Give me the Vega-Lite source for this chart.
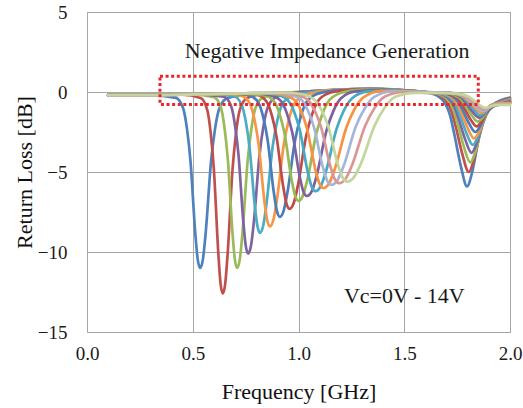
{
"$schema": "https://vega.github.io/schema/vega-lite/v6.json",
"width": 423, "height": 320,
"autosize": {"type": "none"},
"padding": {"left": 87, "top": 12, "right": 13, "bottom": 76},
"background": "white",
"config": {"view": {"stroke": "#A6A6A6", "strokeWidth": 1}, "font": "Liberation Serif"},
"encoding": {
  "x": {"field": "f", "type": "quantitative", "scale": {"domain": [0, 2], "nice": false, "zero": false},
    "axis": {"values": [0, 0.5, 1, 1.5, 2], "format": ".1f", "title": "Frequency [GHz]", "grid": true, "gridColor": "#A6A6A6", "gridWidth": 1, "domain": false, "ticks": false, "tickSize": 0, "labelFlush": false, "labelOverlap": false,
      "labelFont": "Liberation Serif", "labelFontSize": 19, "labelColor": "#1a1a1a", "labelPadding": 12,
      "titleFont": "Liberation Serif", "titleFontSize": 22, "titleFontWeight": "normal", "titleColor": "#111111", "titlePadding": 18}},
  "y": {"field": "r", "type": "quantitative", "scale": {"domain": [-15, 5], "nice": false, "zero": false},
    "axis": {"values": [-15, -10, -5, 0, 5], "format": "d", "title": "Return Loss [dB]", "grid": true, "gridColor": "#A6A6A6", "gridWidth": 1, "domain": false, "ticks": false, "tickSize": 0, "labelFlush": false, "labelOverlap": false,
      "labelFont": "Liberation Serif", "labelFontSize": 19, "labelColor": "#1a1a1a", "labelPadding": 20,
      "titleFont": "Liberation Serif", "titleFontSize": 22, "titleFontWeight": "normal", "titleColor": "#111111", "titlePadding": 1}}
},
"layer": [
{
"data": {"values": [
{"c":"00","f":0.1,"r":-0.2},{"c":"00","f":0.3,"r":-0.2},{"c":"00","f":0.42,"r":-0.37},{"c":"00","f":0.4545,"r":-1.02},{"c":"00","f":0.4729,"r":-2.32},{"c":"00","f":0.489,"r":-4.27},{"c":"00","f":0.512,"r":-8.83},{"c":"00","f":0.5235,"r":-10.46},{"c":"00","f":0.535,"r":-11.0},{"c":"00","f":0.548,"r":-10.46},{"c":"00","f":0.561,"r":-8.83},{"c":"00","f":0.587,"r":-4.27},{"c":"00","f":0.6052,"r":-2.32},{"c":"00","f":0.626,"r":-1.02},{"c":"00","f":0.665,"r":-0.37},{"c":"00","f":0.8,"r":-0.12},{"c":"00","f":1.0,"r":-0.02},{"c":"00","f":1.2,"r":0.12},{"c":"00","f":1.35,"r":0.18},{"c":"00","f":1.5,"r":0.08},{"c":"00","f":1.6,"r":-0.02},{"c":"00","f":1.637,"r":-0.12},{"c":"00","f":1.687,"r":-0.59},{"c":"00","f":1.717,"r":-1.48},{"c":"00","f":1.737,"r":-2.66},{"c":"00","f":1.767,"r":-4.6},{"c":"00","f":1.797,"r":-5.9},{"c":"00","f":1.822,"r":-4.96},{"c":"00","f":1.847,"r":-3.25},{"c":"00","f":1.872,"r":-1.76},{"c":"00","f":1.907,"r":-0.91},{"c":"00","f":2.0,"r":-0.35},
{"c":"01","f":0.1,"r":-0.2},{"c":"01","f":0.3,"r":-0.2},{"c":"01","f":0.45,"r":-0.17},{"c":"01","f":0.537,"r":-0.37},{"c":"01","f":0.5685,"r":-1.12},{"c":"01","f":0.5853,"r":-2.62},{"c":"01","f":0.6,"r":-4.86},{"c":"01","f":0.621,"r":-10.1},{"c":"01","f":0.6315,"r":-11.98},{"c":"01","f":0.642,"r":-12.6},{"c":"01","f":0.6535,"r":-11.98},{"c":"01","f":0.665,"r":-10.1},{"c":"01","f":0.688,"r":-4.86},{"c":"01","f":0.7041,"r":-2.62},{"c":"01","f":0.7225,"r":-1.12},{"c":"01","f":0.757,"r":-0.37},{"c":"01","f":0.85,"r":-0.08},{"c":"01","f":1.0,"r":0.0},{"c":"01","f":1.2,"r":0.15},{"c":"01","f":1.35,"r":0.2},{"c":"01","f":1.5,"r":0.1},{"c":"01","f":1.6,"r":0.0},{"c":"01","f":1.645,"r":-0.1},{"c":"01","f":1.695,"r":-0.5},{"c":"01","f":1.725,"r":-1.25},{"c":"01","f":1.745,"r":-2.25},{"c":"01","f":1.775,"r":-3.9},{"c":"01","f":1.805,"r":-5.0},{"c":"01","f":1.83,"r":-4.2},{"c":"01","f":1.855,"r":-2.75},{"c":"01","f":1.88,"r":-1.55},{"c":"01","f":1.915,"r":-0.86},{"c":"01","f":2.0,"r":-0.4},
{"c":"02","f":0.1,"r":-0.22},{"c":"02","f":0.3,"r":-0.2},{"c":"02","f":0.5,"r":-0.15},{"c":"02","f":0.6,"r":-0.32},{"c":"02","f":0.633,"r":-0.97},{"c":"02","f":0.6506,"r":-2.28},{"c":"02","f":0.666,"r":-4.24},{"c":"02","f":0.688,"r":-8.82},{"c":"02","f":0.699,"r":-10.46},{"c":"02","f":0.71,"r":-11.0},{"c":"02","f":0.7225,"r":-10.46},{"c":"02","f":0.735,"r":-8.82},{"c":"02","f":0.76,"r":-4.24},{"c":"02","f":0.7775,"r":-2.28},{"c":"02","f":0.7975,"r":-0.97},{"c":"02","f":0.835,"r":-0.32},{"c":"02","f":0.95,"r":-0.05},{"c":"02","f":1.1,"r":0.07},{"c":"02","f":1.25,"r":0.18},{"c":"02","f":1.4,"r":0.2},{"c":"02","f":1.5,"r":0.1},{"c":"02","f":1.6,"r":0.0},{"c":"02","f":1.652,"r":-0.09},{"c":"02","f":1.702,"r":-0.44},{"c":"02","f":1.732,"r":-1.1},{"c":"02","f":1.752,"r":-1.98},{"c":"02","f":1.782,"r":-3.43},{"c":"02","f":1.812,"r":-4.4},{"c":"02","f":1.837,"r":-3.7},{"c":"02","f":1.862,"r":-2.42},{"c":"02","f":1.887,"r":-1.42},{"c":"02","f":1.922,"r":-0.85},{"c":"02","f":2.0,"r":-0.45},
{"c":"03","f":0.1,"r":-0.18},{"c":"03","f":0.3,"r":-0.2},{"c":"03","f":0.5,"r":-0.15},{"c":"03","f":0.647,"r":-0.29},{"c":"03","f":0.6815,"r":-0.89},{"c":"03","f":0.6999,"r":-2.09},{"c":"03","f":0.716,"r":-3.89},{"c":"03","f":0.739,"r":-8.1},{"c":"03","f":0.7505,"r":-9.6},{"c":"03","f":0.762,"r":-10.1},{"c":"03","f":0.7755,"r":-9.6},{"c":"03","f":0.789,"r":-8.1},{"c":"03","f":0.816,"r":-3.89},{"c":"03","f":0.8349,"r":-2.09},{"c":"03","f":0.8565,"r":-0.89},{"c":"03","f":0.897,"r":-0.29},{"c":"03","f":1.0,"r":-0.02},{"c":"03","f":1.15,"r":0.1},{"c":"03","f":1.3,"r":0.2},{"c":"03","f":1.45,"r":0.15},{"c":"03","f":1.6,"r":0.0},{"c":"03","f":1.658,"r":-0.08},{"c":"03","f":1.708,"r":-0.38},{"c":"03","f":1.738,"r":-0.95},{"c":"03","f":1.758,"r":-1.71},{"c":"03","f":1.788,"r":-2.96},{"c":"03","f":1.818,"r":-3.8},{"c":"03","f":1.843,"r":-3.19},{"c":"03","f":1.868,"r":-2.09},{"c":"03","f":1.893,"r":-1.28},{"c":"03","f":1.928,"r":-0.83},{"c":"03","f":2.0,"r":-0.5},
{"c":"04","f":0.1,"r":-0.2},{"c":"04","f":0.3,"r":-0.19},{"c":"04","f":0.5,"r":-0.15},{"c":"04","f":0.6,"r":-0.13},{"c":"04","f":0.693,"r":-0.25},{"c":"04","f":0.7305,"r":-0.78},{"c":"04","f":0.7505,"r":-1.82},{"c":"04","f":0.768,"r":-3.39},{"c":"04","f":0.793,"r":-7.06},{"c":"04","f":0.8055,"r":-8.36},{"c":"04","f":0.818,"r":-8.8},{"c":"04","f":0.833,"r":-8.36},{"c":"04","f":0.848,"r":-7.06},{"c":"04","f":0.878,"r":-3.39},{"c":"04","f":0.899,"r":-1.82},{"c":"04","f":0.923,"r":-0.78},{"c":"04","f":0.968,"r":-0.25},{"c":"04","f":1.1,"r":0.06},{"c":"04","f":1.25,"r":0.16},{"c":"04","f":1.4,"r":0.18},{"c":"04","f":1.5,"r":0.1},{"c":"04","f":1.6,"r":0.0},{"c":"04","f":1.664,"r":-0.07},{"c":"04","f":1.714,"r":-0.33},{"c":"04","f":1.744,"r":-0.83},{"c":"04","f":1.764,"r":-1.49},{"c":"04","f":1.794,"r":-2.57},{"c":"04","f":1.824,"r":-3.3},{"c":"04","f":1.849,"r":-2.77},{"c":"04","f":1.874,"r":-1.82},{"c":"04","f":1.899,"r":-1.14},{"c":"04","f":1.934,"r":-0.78},{"c":"04","f":2.0,"r":-0.5},
{"c":"05","f":0.1,"r":-0.21},{"c":"05","f":0.3,"r":-0.2},{"c":"05","f":0.5,"r":-0.15},{"c":"05","f":0.65,"r":-0.12},{"c":"05","f":0.73,"r":-0.24},{"c":"05","f":0.7705,"r":-0.74},{"c":"05","f":0.7921,"r":-1.74},{"c":"05","f":0.811,"r":-3.24},{"c":"05","f":0.838,"r":-6.73},{"c":"05","f":0.8515,"r":-7.98},{"c":"05","f":0.865,"r":-8.4},{"c":"05","f":0.8815,"r":-7.98},{"c":"05","f":0.898,"r":-6.73},{"c":"05","f":0.931,"r":-3.24},{"c":"05","f":0.9541,"r":-1.74},{"c":"05","f":0.9805,"r":-0.74},{"c":"05","f":1.03,"r":-0.2},{"c":"05","f":1.15,"r":0.1},{"c":"05","f":1.3,"r":0.18},{"c":"05","f":1.45,"r":0.15},{"c":"05","f":1.6,"r":0.0},{"c":"05","f":1.67,"r":-0.06},{"c":"05","f":1.72,"r":-0.29},{"c":"05","f":1.75,"r":-0.73},{"c":"05","f":1.77,"r":-1.31},{"c":"05","f":1.8,"r":-2.26},{"c":"05","f":1.83,"r":-2.9},{"c":"05","f":1.855,"r":-2.44},{"c":"05","f":1.88,"r":-1.6},{"c":"05","f":1.905,"r":-1.06},{"c":"05","f":1.94,"r":-0.79},{"c":"05","f":2.0,"r":-0.55},
{"c":"06","f":0.1,"r":-0.19},{"c":"06","f":0.3,"r":-0.2},{"c":"06","f":0.5,"r":-0.15},{"c":"06","f":0.7,"r":-0.1},{"c":"06","f":0.767,"r":-0.21},{"c":"06","f":0.8105,"r":-0.67},{"c":"06","f":0.8337,"r":-1.6},{"c":"06","f":0.854,"r":-3.0},{"c":"06","f":0.883,"r":-6.25},{"c":"06","f":0.8975,"r":-7.41},{"c":"06","f":0.912,"r":-7.8},{"c":"06","f":0.93,"r":-7.41},{"c":"06","f":0.948,"r":-6.25},{"c":"06","f":0.984,"r":-3.0},{"c":"06","f":1.0092,"r":-1.6},{"c":"06","f":1.038,"r":-0.62},{"c":"06","f":1.092,"r":-0.1},{"c":"06","f":1.2,"r":0.12},{"c":"06","f":1.35,"r":0.18},{"c":"06","f":1.5,"r":0.1},{"c":"06","f":1.6,"r":0.0},{"c":"06","f":1.676,"r":-0.05},{"c":"06","f":1.726,"r":-0.25},{"c":"06","f":1.756,"r":-0.63},{"c":"06","f":1.776,"r":-1.13},{"c":"06","f":1.806,"r":-1.95},{"c":"06","f":1.836,"r":-2.5},{"c":"06","f":1.861,"r":-2.1},{"c":"06","f":1.886,"r":-1.38},{"c":"06","f":1.911,"r":-0.98},{"c":"06","f":1.946,"r":-0.79},{"c":"06","f":2.0,"r":-0.6},
{"c":"07","f":0.1,"r":-0.2},{"c":"07","f":0.3,"r":-0.2},{"c":"07","f":0.5,"r":-0.15},{"c":"07","f":0.7,"r":-0.1},{"c":"07","f":0.803,"r":-0.18},{"c":"07","f":0.8495,"r":-0.61},{"c":"07","f":0.8743,"r":-1.48},{"c":"07","f":0.896,"r":-2.79},{"c":"07","f":0.927,"r":-5.85},{"c":"07","f":0.9425,"r":-6.94},{"c":"07","f":0.958,"r":-7.3},{"c":"07","f":0.9775,"r":-6.94},{"c":"07","f":0.997,"r":-5.85},{"c":"07","f":1.036,"r":-2.76},{"c":"07","f":1.0633,"r":-1.43},{"c":"07","f":1.0945,"r":-0.52},{"c":"07","f":1.153,"r":-0.03},{"c":"07","f":1.25,"r":0.14},{"c":"07","f":1.4,"r":0.17},{"c":"07","f":1.5,"r":0.1},{"c":"07","f":1.6,"r":0.0},{"c":"07","f":1.682,"r":-0.04},{"c":"07","f":1.732,"r":-0.22},{"c":"07","f":1.762,"r":-0.54},{"c":"07","f":1.782,"r":-0.97},{"c":"07","f":1.812,"r":-1.68},{"c":"07","f":1.842,"r":-2.15},{"c":"07","f":1.867,"r":-1.81},{"c":"07","f":1.892,"r":-1.18},{"c":"07","f":1.917,"r":-0.88},{"c":"07","f":1.952,"r":-0.76},{"c":"07","f":2.0,"r":-0.6},
{"c":"08","f":0.1,"r":-0.2},{"c":"08","f":0.3,"r":-0.2},{"c":"08","f":0.5,"r":-0.15},{"c":"08","f":0.7,"r":-0.1},{"c":"08","f":0.835,"r":-0.2},{"c":"08","f":0.8845,"r":-0.59},{"c":"08","f":0.9109,"r":-1.4},{"c":"08","f":0.934,"r":-2.6},{"c":"08","f":0.967,"r":-5.45},{"c":"08","f":0.9835,"r":-6.46},{"c":"08","f":1.0,"r":-6.8},{"c":"08","f":1.0213,"r":-6.46},{"c":"08","f":1.0425,"r":-5.44},{"c":"08","f":1.085,"r":-2.55},{"c":"08","f":1.1148,"r":-1.31},{"c":"08","f":1.1488,"r":-0.46},{"c":"08","f":1.2125,"r":-0.01},{"c":"08","f":1.3,"r":0.15},{"c":"08","f":1.45,"r":0.14},{"c":"08","f":1.6,"r":0.0},{"c":"08","f":1.688,"r":-0.04},{"c":"08","f":1.738,"r":-0.19},{"c":"08","f":1.768,"r":-0.46},{"c":"08","f":1.788,"r":-0.83},{"c":"08","f":1.818,"r":-1.44},{"c":"08","f":1.848,"r":-1.85},{"c":"08","f":1.873,"r":-1.55},{"c":"08","f":1.898,"r":-1.02},{"c":"08","f":1.923,"r":-0.83},{"c":"08","f":1.958,"r":-0.78},{"c":"08","f":2.0,"r":-0.65},
{"c":"09","f":0.1,"r":-0.2},{"c":"09","f":0.3,"r":-0.2},{"c":"09","f":0.5,"r":-0.15},{"c":"09","f":0.7,"r":-0.1},{"c":"09","f":0.8,"r":-0.08},{"c":"09","f":0.865,"r":-0.2},{"c":"09","f":0.9175,"r":-0.57},{"c":"09","f":0.9455,"r":-1.35},{"c":"09","f":0.97,"r":-2.5},{"c":"09","f":1.005,"r":-5.22},{"c":"09","f":1.0225,"r":-6.2},{"c":"09","f":1.04,"r":-6.5},{"c":"09","f":1.063,"r":-6.2},{"c":"09","f":1.086,"r":-5.22},{"c":"09","f":1.132,"r":-2.43},{"c":"09","f":1.1642,"r":-1.21},{"c":"09","f":1.201,"r":-0.39},{"c":"09","f":1.27,"r":0.04},{"c":"09","f":1.4,"r":0.14},{"c":"09","f":1.5,"r":0.08},{"c":"09","f":1.6,"r":-0.02},{"c":"09","f":1.694,"r":-0.03},{"c":"09","f":1.744,"r":-0.16},{"c":"09","f":1.774,"r":-0.4},{"c":"09","f":1.794,"r":-0.72},{"c":"09","f":1.824,"r":-1.25},{"c":"09","f":1.854,"r":-1.6},{"c":"09","f":1.879,"r":-1.34},{"c":"09","f":1.904,"r":-0.88},{"c":"09","f":1.929,"r":-0.76},{"c":"09","f":1.964,"r":-0.75},{"c":"09","f":2.0,"r":-0.65},
{"c":"10","f":0.1,"r":-0.2},{"c":"10","f":0.3,"r":-0.2},{"c":"10","f":0.5,"r":-0.15},{"c":"10","f":0.7,"r":-0.1},{"c":"10","f":0.82,"r":-0.07},{"c":"10","f":0.895,"r":-0.17},{"c":"10","f":0.9505,"r":-0.53},{"c":"10","f":0.9801,"r":-1.26},{"c":"10","f":1.006,"r":-2.37},{"c":"10","f":1.043,"r":-4.96},{"c":"10","f":1.0615,"r":-5.89},{"c":"10","f":1.08,"r":-6.2},{"c":"10","f":1.105,"r":-5.89},{"c":"10","f":1.13,"r":-4.96},{"c":"10","f":1.18,"r":-2.31},{"c":"10","f":1.215,"r":-1.14},{"c":"10","f":1.255,"r":-0.37},{"c":"10","f":1.33,"r":0.04},{"c":"10","f":1.45,"r":0.1},{"c":"10","f":1.6,"r":-0.03},{"c":"10","f":1.7,"r":-0.03},{"c":"10","f":1.75,"r":-0.15},{"c":"10","f":1.78,"r":-0.36},{"c":"10","f":1.8,"r":-0.65},{"c":"10","f":1.83,"r":-1.13},{"c":"10","f":1.86,"r":-1.45},{"c":"10","f":1.885,"r":-1.22},{"c":"10","f":1.91,"r":-0.85},{"c":"10","f":1.935,"r":-0.74},{"c":"10","f":1.97,"r":-0.72},{"c":"10","f":2.0,"r":-0.7},
{"c":"11","f":0.1,"r":-0.2},{"c":"11","f":0.3,"r":-0.2},{"c":"11","f":0.5,"r":-0.15},{"c":"11","f":0.7,"r":-0.1},{"c":"11","f":0.85,"r":-0.07},{"c":"11","f":0.923,"r":-0.17},{"c":"11","f":0.9815,"r":-0.5},{"c":"11","f":1.0127,"r":-1.2},{"c":"11","f":1.04,"r":-2.28},{"c":"11","f":1.079,"r":-4.8},{"c":"11","f":1.0985,"r":-5.7},{"c":"11","f":1.118,"r":-6.0},{"c":"11","f":1.145,"r":-5.7},{"c":"11","f":1.172,"r":-4.8},{"c":"11","f":1.226,"r":-2.23},{"c":"11","f":1.2638,"r":-1.1},{"c":"11","f":1.307,"r":-0.34},{"c":"11","f":1.388,"r":0.05},{"c":"11","f":1.5,"r":0.06},{"c":"11","f":1.6,"r":-0.04},{"c":"11","f":1.706,"r":-0.05},{"c":"11","f":1.756,"r":-0.15},{"c":"11","f":1.786,"r":-0.35},{"c":"11","f":1.806,"r":-0.6},{"c":"11","f":1.836,"r":-1.02},{"c":"11","f":1.866,"r":-1.3},{"c":"11","f":1.891,"r":-1.09},{"c":"11","f":1.916,"r":-0.8},{"c":"11","f":1.941,"r":-0.72},{"c":"11","f":2.0,"r":-0.7},
{"c":"12","f":0.1,"r":-0.2},{"c":"12","f":0.3,"r":-0.2},{"c":"12","f":0.5,"r":-0.15},{"c":"12","f":0.7,"r":-0.1},{"c":"12","f":0.88,"r":-0.06},{"c":"12","f":0.95,"r":-0.15},{"c":"12","f":1.0115,"r":-0.46},{"c":"12","f":1.0443,"r":-1.16},{"c":"12","f":1.073,"r":-2.2},{"c":"12","f":1.114,"r":-4.64},{"c":"12","f":1.1345,"r":-5.51},{"c":"12","f":1.155,"r":-5.8},{"c":"12","f":1.184,"r":-5.51},{"c":"12","f":1.213,"r":-4.64},{"c":"12","f":1.271,"r":-2.15},{"c":"12","f":1.3116,"r":-1.06},{"c":"12","f":1.358,"r":-0.31},{"c":"12","f":1.445,"r":0.03},{"c":"12","f":1.55,"r":0.03},{"c":"12","f":1.65,"r":-0.02},{"c":"12","f":1.712,"r":-0.05},{"c":"12","f":1.762,"r":-0.14},{"c":"12","f":1.792,"r":-0.32},{"c":"12","f":1.812,"r":-0.56},{"c":"12","f":1.842,"r":-0.95},{"c":"12","f":1.872,"r":-1.2},{"c":"12","f":1.897,"r":-1.02},{"c":"12","f":1.922,"r":-0.8},{"c":"12","f":1.947,"r":-0.74},{"c":"12","f":2.0,"r":-0.75},
{"c":"13","f":0.1,"r":-0.2},{"c":"13","f":0.3,"r":-0.2},{"c":"13","f":0.5,"r":-0.15},{"c":"13","f":0.7,"r":-0.1},{"c":"13","f":0.9,"r":-0.05},{"c":"13","f":0.977,"r":-0.14},{"c":"13","f":1.0415,"r":-0.46},{"c":"13","f":1.0759,"r":-1.14},{"c":"13","f":1.106,"r":-2.17},{"c":"13","f":1.149,"r":-4.56},{"c":"13","f":1.1705,"r":-5.42},{"c":"13","f":1.192,"r":-5.7},{"c":"13","f":1.2228,"r":-5.42},{"c":"13","f":1.2535,"r":-4.56},{"c":"13","f":1.315,"r":-2.12},{"c":"13","f":1.358,"r":-1.04},{"c":"13","f":1.407,"r":-0.3},{"c":"13","f":1.4995,"r":0.0},{"c":"13","f":1.6,"r":-0.05},{"c":"13","f":1.718,"r":-0.07},{"c":"13","f":1.768,"r":-0.14},{"c":"13","f":1.798,"r":-0.3},{"c":"13","f":1.818,"r":-0.52},{"c":"13","f":1.848,"r":-0.88},{"c":"13","f":1.878,"r":-1.1},{"c":"13","f":1.903,"r":-0.95},{"c":"13","f":1.928,"r":-0.8},{"c":"13","f":1.953,"r":-0.75},{"c":"13","f":2.0,"r":-0.75},
{"c":"14","f":0.1,"r":-0.2},{"c":"14","f":0.3,"r":-0.2},{"c":"14","f":0.5,"r":-0.15},{"c":"14","f":0.7,"r":-0.1},{"c":"14","f":0.93,"r":-0.04},{"c":"14","f":1.005,"r":-0.11},{"c":"14","f":1.0725,"r":-0.45},{"c":"14","f":1.1085,"r":-1.12},{"c":"14","f":1.14,"r":-2.13},{"c":"14","f":1.185,"r":-4.48},{"c":"14","f":1.2075,"r":-5.32},{"c":"14","f":1.23,"r":-5.6},{"c":"14","f":1.2625,"r":-5.32},{"c":"14","f":1.295,"r":-4.48},{"c":"14","f":1.36,"r":-2.1},{"c":"14","f":1.4055,"r":-1.02},{"c":"14","f":1.4575,"r":-0.3},{"c":"14","f":1.555,"r":-0.05},{"c":"14","f":1.65,"r":-0.06},{"c":"14","f":1.724,"r":-0.08},{"c":"14","f":1.774,"r":-0.15},{"c":"14","f":1.804,"r":-0.29},{"c":"14","f":1.824,"r":-0.48},{"c":"14","f":1.854,"r":-0.8},{"c":"14","f":1.884,"r":-1.0},{"c":"14","f":1.909,"r":-0.9},{"c":"14","f":1.934,"r":-0.82},{"c":"14","f":1.959,"r":-0.8},{"c":"14","f":2.0,"r":-0.8}
]},
"mark": {"type": "line", "interpolate": "monotone", "strokeWidth": 2.7, "strokeCap": "round", "strokeJoin": "round"},
"encoding": {
  "color": {"field": "c", "type": "nominal", "legend": null,
    "scale": {"domain": ["00","01","02","03","04","05","06","07","08","09","10","11","12","13","14"],
      "range": ["#4F81BD","#C0504D","#9BBB59","#8064A2","#4BACC6","#F79646","#4A7DBA","#BE4B48","#98B954","#7D60A0","#46AAC5","#F69240","#A5B5DC","#D99694","#C3D69B"]}}
}
},
{
"data": {"values": [{"f": 0.345, "f2": 1.85, "r": 0.98, "r2": -0.78}]},
"mark": {"type": "rect", "fill": "white", "fillOpacity": 0, "stroke": "#E8262B", "strokeWidth": 3, "strokeDash": [3, 2.6]},
"encoding": {"x2": {"field": "f2"}, "y2": {"field": "r2"}}
},
{
"data": {"values": [{"t": "Negative Impedance Generation", "f": 1.135, "r": 2.55}, {"t": "Vc=0V - 14V", "f": 1.5, "r": -12.75}]},
"mark": {"type": "text", "font": "Liberation Serif", "fontSize": 22, "color": "#1a1a1a", "align": "center", "baseline": "middle"},
"encoding": {"text": {"field": "t", "type": "nominal"}}
}
]
}
